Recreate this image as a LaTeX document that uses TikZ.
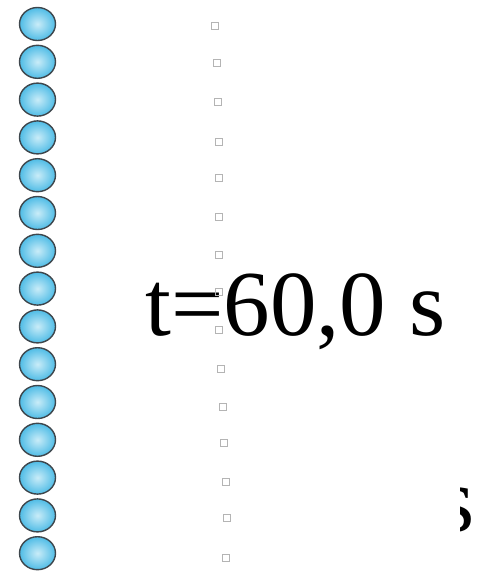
\documentclass[tikz,border=0pt]{standalone}
\usepackage{fontspec}
\setmainfont{Liberation Serif}
\usetikzlibrary{positioning,shapes.geometric}

\definecolor{ballrim}{HTML}{3E464C}
\definecolor{balllight}{HTML}{C9ECF8}
\definecolor{balldark}{HTML}{4FBCE6}
\definecolor{markgray}{HTML}{B4B4B4}

\tikzset{
  ball/.style={ellipse, draw=ballrim, line width=1.4pt, minimum width=36pt,
    minimum height=33pt, inner sep=0pt, outer color=balldark, inner color=balllight},
  marksq/.style={rectangle, draw=markgray, line width=0.9pt, minimum size=7pt,
    inner sep=0pt},
  bigtext/.style={inner sep=0pt, font=\fontsize{93}{100}\selectfont}
}

\begin{document}
\begin{tikzpicture}[x=1pt, y=-1pt]
    % page frame
    \useasboundingbox (0,0) rectangle (481,573);

    % column of balls on the left
    \foreach \i in {0,...,14} {
      \node[ball] (ball\i) at (37.5, {24+37.8*\i}) {};
    }

    % time label
    \node[bigtext, anchor=base west] (time) at (145,335) {t=60,0 s};

    % right edge of a second label, cut off
    \begin{scope}
      \clip (460,470) rectangle (481,545);
      \node[bigtext, anchor=base east] (timecut) at (475,531) {s};
    \end{scope}

    % dotted column of small squares
    \foreach \i/\x/\y in {0/215/26, 1/217/63, 2/218/102, 3/219/142, 4/219/178,
      5/219/217, 6/219/255, 7/219/292, 8/219/330, 9/221/369, 10/223/407,
      11/224/443, 12/226/482, 13/227/518, 14/226/558} {
      \node[marksq] (mark\i) at (\x,\y) {};
    }
\end{tikzpicture}
\end{document}
